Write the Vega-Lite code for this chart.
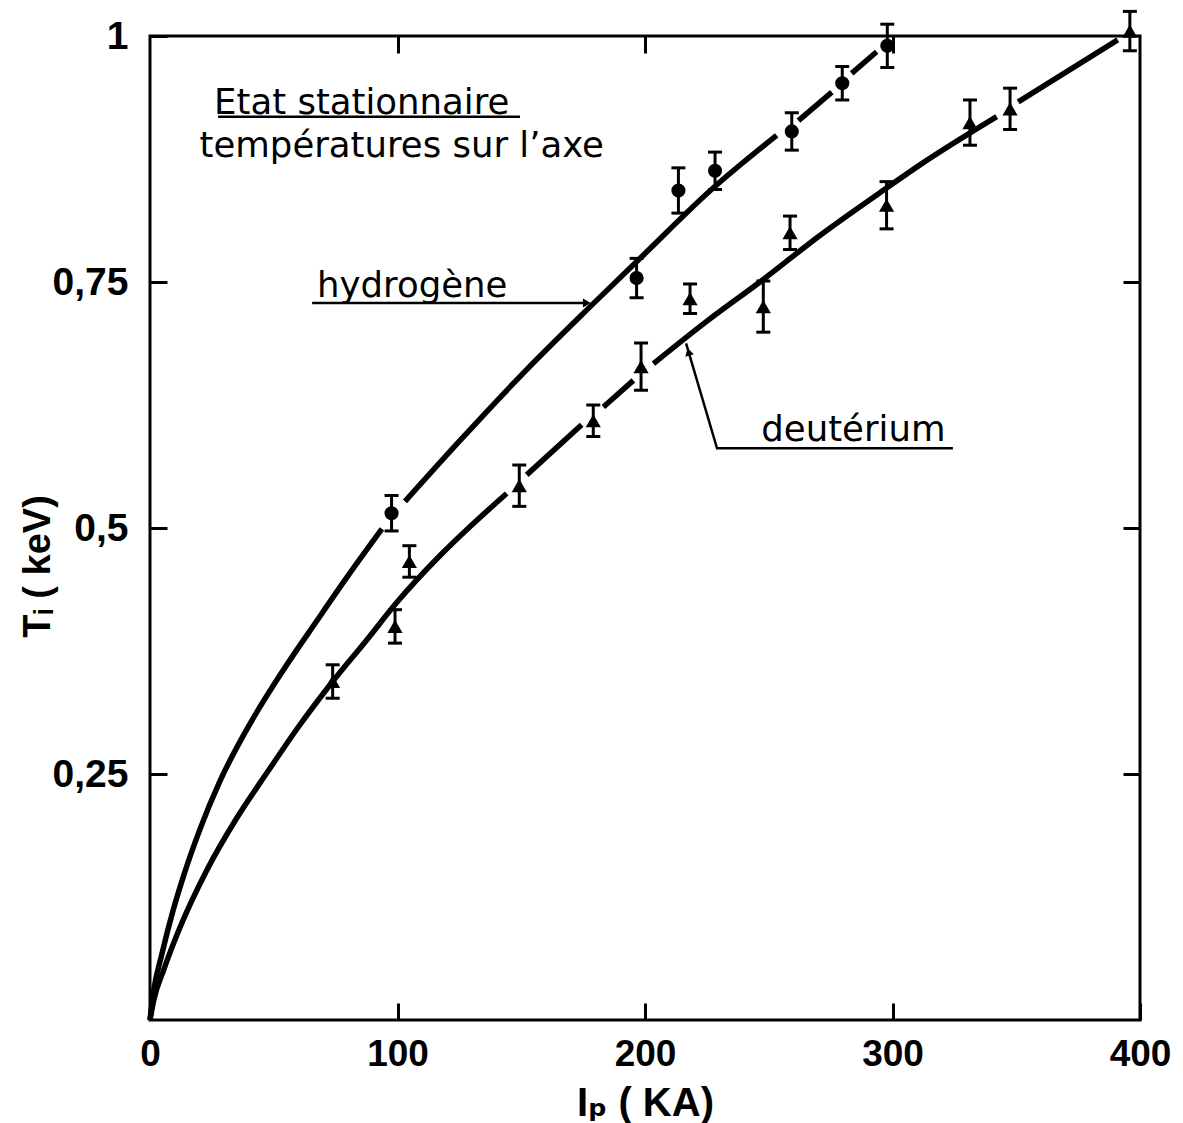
{
  "$schema": "https://vega.github.io/schema/vega-lite/v6.json",
  "width": 990,
  "height": 984,
  "autosize": {"type": "none"},
  "padding": {"left": 150, "top": 36, "right": 43, "bottom": 103},
  "background": "white",
  "config": {
    "view": {"stroke": "black", "strokeWidth": 3},
    "axis": {"grid": false, "domain": false, "tickColor": "black", "tickWidth": 3, "labelColor": "black", "titleColor": "black"}
  },
  "datasets": {
    "hyd": [
      {"I": 97.6, "T": 0.515, "E": 0.018},
      {"I": 196.6, "T": 0.754, "E": 0.02},
      {"I": 213.5, "T": 0.843, "E": 0.023},
      {"I": 228.3, "T": 0.863, "E": 0.019},
      {"I": 259.3, "T": 0.903, "E": 0.019},
      {"I": 279.7, "T": 0.952, "E": 0.017},
      {"I": 297.9, "T": 0.99, "E": 0.022}
    ],
    "deu": [
      {"I": 73.8, "T": 0.344, "E": 0.017},
      {"I": 99.0, "T": 0.4, "E": 0.017},
      {"I": 104.8, "T": 0.466, "E": 0.016},
      {"I": 149.2, "T": 0.543, "E": 0.021},
      {"I": 179.1, "T": 0.609, "E": 0.016},
      {"I": 198.4, "T": 0.664, "E": 0.024},
      {"I": 218.2, "T": 0.733, "E": 0.015},
      {"I": 247.8, "T": 0.725, "E": 0.026},
      {"I": 258.6, "T": 0.8, "E": 0.017},
      {"I": 297.6, "T": 0.828, "E": 0.024},
      {"I": 331.3, "T": 0.912, "E": 0.023},
      {"I": 347.5, "T": 0.926, "E": 0.021},
      {"I": 395.9, "T": 1.005, "E": 0.02}
    ],
    "curves": [
      {"I": 0, "T": 0, "seg": "H1"},
      {"I": 1.5, "T": 0.03, "seg": "H1"},
      {"I": 4.7, "T": 0.066, "seg": "H1"},
      {"I": 9.4, "T": 0.112, "seg": "H1"},
      {"I": 13.5, "T": 0.146, "seg": "H1"},
      {"I": 20.2, "T": 0.194, "seg": "H1"},
      {"I": 28.3, "T": 0.243, "seg": "H1"},
      {"I": 40.4, "T": 0.301, "seg": "H1"},
      {"I": 53.7, "T": 0.355, "seg": "H1"},
      {"I": 67.5, "T": 0.406, "seg": "H1"},
      {"I": 79.6, "T": 0.45, "seg": "H1"},
      {"I": 93.7, "T": 0.499, "seg": "H1"},
      {"I": 103.0, "T": 0.527, "seg": "H2"},
      {"I": 125.3, "T": 0.589, "seg": "H2"},
      {"I": 152.2, "T": 0.661, "seg": "H2"},
      {"I": 179.1, "T": 0.728, "seg": "H2"},
      {"I": 200.0, "T": 0.779, "seg": "H2"},
      {"I": 227.3, "T": 0.845, "seg": "H2"},
      {"I": 253.2, "T": 0.899, "seg": "H2"},
      {"I": 262.0, "T": 0.914, "seg": "H3"},
      {"I": 275.5, "T": 0.943, "seg": "H3"},
      {"I": 283.5, "T": 0.962, "seg": "H4"},
      {"I": 293.6, "T": 0.984, "seg": "H4"},
      {"I": 0, "T": 0, "seg": "D1"},
      {"I": 1.5, "T": 0.02, "seg": "D1"},
      {"I": 5.4, "T": 0.05, "seg": "D1"},
      {"I": 12.1, "T": 0.094, "seg": "D1"},
      {"I": 22.9, "T": 0.152, "seg": "D1"},
      {"I": 35.0, "T": 0.205, "seg": "D1"},
      {"I": 48.0, "T": 0.254, "seg": "D1"},
      {"I": 60.0, "T": 0.298, "seg": "D1"},
      {"I": 73.8, "T": 0.344, "seg": "D1"},
      {"I": 87.5, "T": 0.386, "seg": "D1"},
      {"I": 99.6, "T": 0.424, "seg": "D1"},
      {"I": 117.2, "T": 0.472, "seg": "D1"},
      {"I": 130.0, "T": 0.503, "seg": "D1"},
      {"I": 144.1, "T": 0.535, "seg": "D1"},
      {"I": 152.2, "T": 0.554, "seg": "D2"},
      {"I": 174.4, "T": 0.605, "seg": "D2"},
      {"I": 183.2, "T": 0.623, "seg": "D3"},
      {"I": 195.3, "T": 0.65, "seg": "D3"},
      {"I": 203.4, "T": 0.667, "seg": "D4"},
      {"I": 224.9, "T": 0.71, "seg": "D4"},
      {"I": 247.5, "T": 0.752, "seg": "D4"},
      {"I": 270.0, "T": 0.796, "seg": "D4"},
      {"I": 294.5, "T": 0.84, "seg": "D4"},
      {"I": 311.1, "T": 0.869, "seg": "D4"},
      {"I": 342.1, "T": 0.918, "seg": "D4"},
      {"I": 350.8, "T": 0.933, "seg": "D5"},
      {"I": 391.0, "T": 0.996, "seg": "D5"}
    ],
    "notes": [
      {"I": 25.9, "T": 0.921, "label": "Etat stationnaire"},
      {"I": 20.0, "T": 0.877, "label": "températures sur l’axe"},
      {"I": 67.5, "T": 0.735, "label": "hydrogène"},
      {"I": 247.0, "T": 0.588, "label": "deutérium"}
    ],
    "guides": [
      {"I": 27.5, "T": 0.918, "g": "u1"},
      {"I": 149.5, "T": 0.918, "g": "u1"},
      {"I": 65.5, "T": 0.7287, "g": "h"},
      {"I": 176.0, "T": 0.7287, "g": "h"},
      {"I": 216.6, "T": 0.6877, "g": "d"},
      {"I": 229.1, "T": 0.581, "g": "d"},
      {"I": 324.4, "T": 0.581, "g": "d"}
    ],
    "arrowH": [{"I": 176.5, "T": 0.7287}],
    "arrowD": [{"I": 217.6, "T": 0.679}]
  },
  "layer": [
    {
      "encoding": {
        "x": {
          "field": "I", "type": "quantitative",
          "scale": {"domain": [0, 400], "nice": false, "zero": false},
          "axis": {
            "orient": "bottom", "title": "Iₚ ( KA)", "values": [0, 100, 200, 300, 400],
            "tickSize": -17, "labelPadding": 33, "labelFlush": false, "labelOverlap": false, "labelBound": false,
            "labelFont": "Liberation Sans, Arial, sans-serif",
            "labelFontWeight": "bold", "labelFontSize": 37,
            "titleFont": "Liberation Sans, DejaVu Sans", "titleFontWeight": "bold", "titleFontSize": 40,
            "titleX": 495, "titleY": 95, "titleAlign": "center", "titleBaseline": "alphabetic", "titleAnchor": null
          }
        },
        "y": {
          "field": "T", "type": "quantitative",
          "scale": {"domain": [0, 1], "nice": false, "zero": false},
          "axis": {
            "orient": "left", "title": "Tᵢ ( keV)", "values": [0.25, 0.5, 0.75, 1],
            "tickSize": -17, "labelPadding": 39, "labelFlush": false, "labelOverlap": false, "labelBound": false,
            "labelExpr": "replace(format(datum.value, '~g'), '.', ',')",
            "labelFont": "Liberation Sans, Arial, sans-serif", "labelFontWeight": "bold", "labelFontSize": 39,
            "labelBaseline": "middle",
            "titleFont": "Liberation Sans, DejaVu Sans", "titleFontWeight": "bold", "titleFontSize": 38,
            "titleAngle": 270, "titleX": -101, "titleY": 530, "titleAlign": "center", "titleBaseline": "alphabetic"
          }
        }
      },
      "layer": [
        {
          "data": {"name": "curves"},
          "mark": {"type": "line", "color": "black", "strokeWidth": 5.5, "strokeCap": "butt", "interpolate": "monotone", "clip": false},
          "encoding": {"detail": {"field": "seg"}}
        },
        {
          "data": {"name": "hyd"},
          "mark": {"type": "errorbar", "ticks": {"color": "black", "opacity": 1}, "rule": {"color": "black", "opacity": 1}, "thickness": 3, "size": 14},
          "encoding": {"yError": {"field": "E"}}
        },
        {
          "data": {"name": "deu"},
          "mark": {"type": "errorbar", "ticks": {"color": "black", "opacity": 1}, "rule": {"color": "black", "opacity": 1}, "thickness": 3, "size": 14},
          "encoding": {"yError": {"field": "E"}}
        },
        {
          "data": {"name": "hyd"},
          "mark": {"type": "point", "shape": "circle", "filled": true, "color": "black", "opacity": 1, "size": 200}
        },
        {
          "data": {"name": "deu"},
          "mark": {"type": "point", "shape": "triangle-up", "filled": true, "color": "black", "opacity": 1, "size": 230}
        },
        {
          "data": {"name": "notes"},
          "mark": {"type": "text", "align": "left", "baseline": "alphabetic", "font": "DejaVu Sans", "fontSize": 35.5, "color": "black"},
          "encoding": {"text": {"field": "label"}}
        },
        {
          "data": {"name": "arrowH"},
          "mark": {"type": "point", "shape": "triangle-right", "filled": true, "color": "black", "opacity": 1, "size": 80}
        },
        {
          "data": {"name": "arrowD"},
          "mark": {"type": "point", "shape": "triangle-up", "filled": true, "color": "black", "opacity": 1, "size": 80, "angle": -16}
        }
      ]
    },
    {
      "data": {"name": "guides"},
      "mark": {"type": "line", "color": "black", "strokeWidth": 2.5},
      "encoding": {
        "x": {
          "field": "I", "type": "quantitative",
          "scale": {"domain": [0, 400], "nice": false, "zero": false},
          "axis": {"orient": "top", "title": null, "labels": false, "values": [100, 200, 300], "tickSize": -17}
        },
        "y": {
          "field": "T", "type": "quantitative",
          "scale": {"domain": [0, 1], "nice": false, "zero": false},
          "axis": {"orient": "right", "title": null, "labels": false, "values": [0.25, 0.5, 0.75], "tickSize": -17}
        },
        "detail": {"field": "g"}
      }
    }
  ],
  "resolve": {"axis": {"x": "independent", "y": "independent"}}
}
